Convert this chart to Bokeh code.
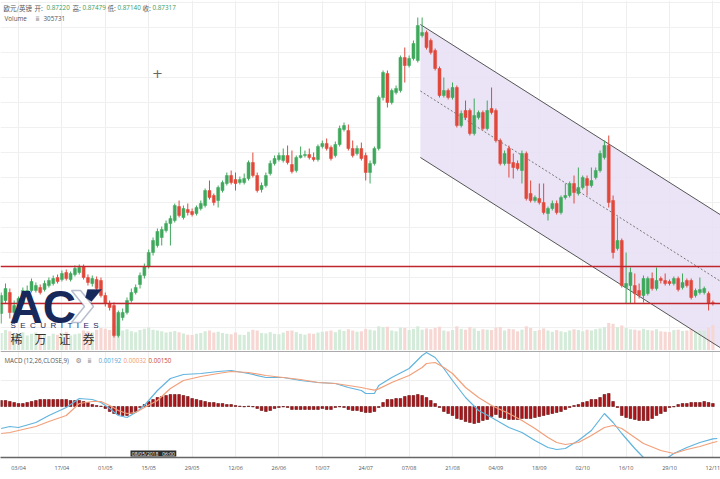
from bokeh.plotting import figure
from bokeh.layouts import column
from bokeh.models import (Range1d, FixedTicker, Span, Label, PolyAnnotation,
                          ColumnDataSource, GlobalInlineStyleSheet)
from bokeh.embed import file_html
from bokeh.resources import INLINE

# ---------------- data ----------------
tick_idx = [4, 14, 24, 34, 44, 54, 64, 74, 84, 94, 104, 114, 124, 134, 144, 154, 164]
tick_labels = ["03/04", "17/04", "01/05", "15/05", "29/05", "12/06", "26/06", "10/07", "24/07",
               "07/08", "21/08", "04/09", "18/09", "02/10", "16/10", "29/10", "12/11"]

opens = [
    .8714, .8727, .8735, .8715, .8717, .8724, .8732, .8737, .8737, .8740,
    .8738, .8742, .8744, .8750, .8748, .8755, .8748, .8753, .8755, .8761,
    .8750, .8744, .8748, .8747, .8732, .8724, .8722, .8692, .8710, .8715,
    .8727, .8735, .8743, .8752, .8761, .8775, .8782, .8790, .8797, .8804,
    .8807, .8821, .8810, .8818, .8816, .8814, .8819, .8822, .8837, .8832,
    .8827, .8837, .8844, .8852, .8848, .8845, .8845, .8849, .8865, .8852,
    .8838, .8842, .8854, .8864, .8868, .8867, .8872, .8863, .8857, .8870,
    .8872, .8873, .8870, .8868, .8881, .8884, .8880, .8872, .8883, .8898,
    .8897, .8879, .8874, .8879, .8872, .8855, .8864, .8879, .8930, .8954,
    .8925, .8935, .8937, .8970, .8962, .8969, .8967, .8992, .8995, .8987,
    .8977, .8959, .8932, .8937, .8930, .8940, .8902, .8917, .8917, .8894,
    .8910, .8915, .8899, .8919, .8917, .8887, .8864, .8879, .8865, .8864,
    .8857, .8874, .8834, .8827, .8829, .8825, .8814, .8819, .8824, .8815,
    .8830, .8832, .8844, .8834, .8840, .8849, .8842, .8850, .8857, .8870,
    .8882, .8827, .8779, .8787, .8740, .8742, .8742, .8737, .8732, .8734,
    .8749, .8739, .8749, .8747, .8746, .8744, .8749, .8740, .8747, .8747,
    .8732, .8735, .8735, .8734, .8725]
highs = [
    .8735, .8744, .8739, .8727, .8731, .8740, .8742, .8749, .8745, .8743,
    .8747, .8750, .8752, .8753, .8757, .8758, .8756, .8762, .8763, .8763,
    .8753, .8752, .8751, .8750, .8735, .8727, .8725, .8717, .8719, .8730,
    .8739, .8743, .8755, .8764, .8778, .8790, .8799, .8801, .8807, .8812,
    .8824, .8827, .8822, .8824, .8819, .8822, .8827, .8839, .8847, .8834,
    .8842, .8847, .8855, .8857, .8855, .8851, .8854, .8867, .8875, .8855,
    .8845, .8855, .8867, .8872, .8875, .8879, .8882, .8877, .8872, .8881,
    .8877, .8879, .8875, .8883, .8887, .8889, .8882, .8886, .8902, .8905,
    .8903, .8887, .8882, .8885, .8875, .8867, .8881, .8932, .8957, .8957,
    .8939, .8942, .8972, .8980, .8972, .8987, .9010, .9010, .8997, .8989,
    .8979, .8961, .8950, .8939, .8945, .8942, .8917, .8927, .8919, .8929,
    .8917, .8917, .8927, .8940, .8919, .8889, .8877, .8882, .8874, .8867,
    .8877, .8876, .8847, .8832, .8844, .8844, .8821, .8827, .8827, .8832,
    .8844, .8846, .8852, .8860, .8852, .8852, .8860, .8860, .8877, .8887,
    .8892, .8832, .8810, .8789, .8775, .8760, .8754, .8744, .8752, .8751,
    .8755, .8760, .8751, .8754, .8748, .8751, .8751, .8754, .8749, .8749,
    .8739, .8750, .8741, .8736, .8727]
lows = [
    .8704, .8724, .8709, .8711, .8715, .8722, .8730, .8735, .8735, .8733,
    .8736, .8740, .8742, .8744, .8746, .8747, .8746, .8751, .8753, .8748,
    .8742, .8741, .8736, .8730, .8721, .8717, .8690, .8690, .8707, .8713,
    .8725, .8733, .8739, .8749, .8759, .8772, .8780, .8782, .8795, .8782,
    .8805, .8810, .8808, .8812, .8811, .8812, .8817, .8820, .8828, .8822,
    .8820, .8835, .8842, .8843, .8837, .8843, .8843, .8847, .8850, .8835,
    .8835, .8840, .8852, .8862, .8866, .8865, .8863, .8854, .8855, .8869,
    .8870, .8868, .8866, .8866, .8879, .8877, .8867, .8870, .8881, .8896,
    .8877, .8870, .8872, .8867, .8847, .8844, .8862, .8877, .8927, .8920,
    .8923, .8933, .8935, .8945, .8960, .8967, .8965, .8990, .8978, .8973,
    .8957, .8930, .8930, .8928, .8928, .8900, .8900, .8908, .8892, .8892,
    .8908, .8897, .8897, .8913, .8885, .8862, .8862, .8850, .8849, .8857,
    .8844, .8827, .8825, .8825, .8823, .8813, .8807, .8817, .8813, .8813,
    .8828, .8830, .8824, .8832, .8838, .8832, .8840, .8848, .8855, .8868,
    .8820, .8769, .8777, .8740, .8724, .8724, .8724, .8729, .8725, .8732,
    .8737, .8737, .8744, .8742, .8742, .8742, .8736, .8738, .8740, .8728,
    .8730, .8733, .8733, .8717, .8722]
closes = [
    .8732, .8739, .8715, .8722, .8729, .8737, .8737, .8746, .8742, .8735,
    .8744, .8747, .8749, .8746, .8754, .8749, .8754, .8759, .8760, .8750,
    .8745, .8749, .8739, .8732, .8724, .8720, .8692, .8715, .8715, .8727,
    .8735, .8740, .8752, .8761, .8775, .8787, .8796, .8798, .8804, .8809,
    .8822, .8812, .8819, .8815, .8813, .8820, .8824, .8837, .8830, .8825,
    .8840, .8845, .8852, .8845, .8844, .8848, .8849, .8865, .8852, .8837,
    .8842, .8852, .8864, .8869, .8872, .8872, .8865, .8856, .8870, .8872,
    .8873, .8870, .8868, .8881, .8884, .8879, .8869, .8883, .8899, .8902,
    .8879, .8872, .8879, .8869, .8855, .8864, .8879, .8930, .8955, .8925,
    .8937, .8939, .8970, .8962, .8969, .8984, .9002, .8995, .8980, .8975,
    .8959, .8932, .8937, .8930, .8940, .8902, .8914, .8910, .8894, .8912,
    .8915, .8899, .8917, .8915, .8887, .8864, .8874, .8864, .8860, .8859,
    .8874, .8829, .8827, .8830, .8825, .8815, .8819, .8824, .8815, .8830,
    .8832, .8844, .8835, .8840, .8850, .8842, .8847, .8857, .8874, .8882,
    .8825, .8775, .8787, .8742, .8744, .8755, .8734, .8732, .8749, .8749,
    .8739, .8747, .8747, .8744, .8744, .8749, .8738, .8745, .8742, .8730,
    .8737, .8738, .8739, .8724, .8724]
# volume, thousands
volumes = [
    210, 245, 230, 190, 205, 220, 180, 200, 215, 195,
    185, 175, 200, 190, 210, 225, 180, 195, 205, 240,
    230, 215, 250, 270, 260, 245, 310, 290, 240, 255,
    230, 220, 245, 260, 275, 250, 240, 230, 215, 225,
    235, 220, 205, 190, 185, 200, 210, 230, 240, 215,
    225, 210, 200, 195, 215, 190, 185, 225, 250, 240,
    210, 205, 220, 200, 195, 215, 235, 240, 220, 200,
    190, 205, 200, 215, 225, 230, 240, 220, 250, 235,
    255, 240, 225, 230, 260, 250, 240, 290, 280, 285,
    240, 230, 275, 270, 245, 260, 290, 250, 265, 255,
    270, 285, 240, 230, 245, 290, 260, 250, 280, 265,
    235, 255, 250, 245, 275, 280, 240, 260, 255, 230,
    250, 290, 270, 235, 245, 265, 240, 225, 245, 230,
    220, 240, 255, 245, 230, 250, 240, 255, 265, 280,
    330, 320, 280, 300, 270, 255, 250, 240, 260, 245,
    240, 255, 230, 225, 220, 245, 250, 235, 240, 260,
    230, 240, 235, 275, 306]

macd_idx = [0, 2, 4, 8, 11, 15, 18, 21, 23, 25, 27, 29, 31, 33, 36, 39, 42, 46, 50, 53,
            57, 61, 65, 69, 73, 77, 80, 83, 84, 86, 87, 90, 94, 97, 98, 100, 102, 104, 107, 110,
            113, 117, 120, 123, 126, 128, 130, 133, 136, 139, 141, 143, 146, 148, 152, 155, 158, 161, 164, 165]
macd_line = [-0.00110, -0.00100, -0.00105, -0.00080, -0.00045, -0.00005, 0.00040, 0.00035, 0.00020, -0.00010,
             -0.00045, -0.00055, -0.00030, 0.00005, 0.00080, 0.00140, 0.00160, 0.00165, 0.00175, 0.00180,
             0.00165, 0.00145, 0.00145, 0.00130, 0.00120, 0.00115, 0.00095, 0.00080, 0.00065, 0.00065,
             0.00105, 0.00145, 0.00190, 0.00255, 0.00270, 0.00245, 0.00190, 0.00130, 0.00045, -0.00020,
             -0.00055, -0.00105, -0.00130, -0.00170, -0.00205, -0.00215, -0.00210, -0.00170, -0.00120, -0.00035,
             -0.00080, -0.00135, -0.00210, -0.00255, -0.00280, -0.00235, -0.00205, -0.00180, -0.00162, -0.00160]
signal_line = [-0.00135, -0.00130, -0.00120, -0.00100, -0.00075, -0.00045, 0.00015, 0.00025, 0.00025, 0.00005,
               -0.00020, -0.00035, -0.00030, -0.00005, 0.00030, 0.00090, 0.00130, 0.00150, 0.00165, 0.00175,
               0.00170, 0.00155, 0.00145, 0.00135, 0.00120, 0.00115, 0.00105, 0.00095, 0.00090, 0.00082,
               0.00088, 0.00120, 0.00155, 0.00195, 0.00215, 0.00220, 0.00195, 0.00165, 0.00095, 0.00045,
               0.00005, -0.00035, -0.00070, -0.00110, -0.00155, -0.00180, -0.00190, -0.00180, -0.00145, -0.00105,
               -0.00095, -0.00110, -0.00155, -0.00185, -0.00220, -0.00235, -0.00215, -0.00200, -0.00180, -0.00175]
hist = [
    0.00030, 0.00030, 0.00025, 0.00020, 0.00015, 0.00015, 0.00020, 0.00025, 0.00030, 0.00035,
    0.00035, 0.00035, 0.00035, 0.00035, 0.00035, 0.00035, 0.00030, 0.00030, 0.00030, 0.00025,
    0.00020, 0.00010, 0.00005, 0.00002, -0.00010, -0.00025, -0.00035, -0.00040, -0.00045, -0.00045,
    -0.00035, -0.00025, -0.00005, 0.00010, 0.00025, 0.00035, 0.00045, 0.00050, 0.00055, 0.00060,
    0.00060, 0.00060, 0.00055, 0.00050, 0.00040, 0.00035, 0.00030, 0.00025, 0.00020, 0.00020,
    0.00015, 0.00015, 0.00010, 0.00010, 0.00005, 0.00002, -0.00002, 0.00002, -0.00002, -0.00010,
    -0.00020, -0.00025, -0.00020, -0.00010, -0.00005, -0.00002, -0.00005, -0.00015, -0.00015, -0.00015,
    -0.00015, -0.00015, -0.00015, -0.00015, -0.00010, -0.00015, -0.00015, -0.00005, -0.00002, -0.00005,
    -0.00015, -0.00020, -0.00020, -0.00025, -0.00030, -0.00030, -0.00025, -0.00005, 0.00020, 0.00035,
    0.00035, 0.00040, 0.00040, 0.00050, 0.00055, 0.00055, 0.00060, 0.00055, 0.00045, 0.00030,
    0.00015, -0.00005, -0.00025, -0.00035, -0.00045, -0.00060, -0.00065, -0.00075, -0.00080, -0.00085,
    -0.00080, -0.00070, -0.00065, -0.00050, -0.00040, -0.00055, -0.00060, -0.00065, -0.00065, -0.00065,
    -0.00060, -0.00060, -0.00060, -0.00055, -0.00050, -0.00045, -0.00040, -0.00035, -0.00030, -0.00025,
    -0.00015, -0.00005, 0.00005, 0.00010, 0.00020, 0.00025, 0.00035, 0.00035, 0.00045, 0.00060,
    0.00065, 0.00025, -0.00005, -0.00045, -0.00055, -0.00060, -0.00065, -0.00070, -0.00070, -0.00070,
    -0.00060, -0.00045, -0.00035, -0.00025, -0.00005, -0.00002, 0.00010, 0.00015, 0.00015, 0.00020,
    0.00020, 0.00020, 0.00025, 0.00020, 0.00015]

support_levels = [0.8761, 0.8724]
chan_x = [96.6, 166.0]
chan_upper = [0.9003, 0.8812]
chan_mid = [0.89365, 0.87455]
chan_lower = [0.8870, 0.8679]

# ---------------- styling ----------------
GREEN = "#3fa85c"
RED = "#e0483b"
VGREEN = "#d3ebd8"
VRED = "#f6d7d3"
NAVY = "#17285b"
W = 720
H1 = 350
H2 = 107
XR = Range1d(-0.15, 165.75)

idx = list(range(len(opens)))
up = [c >= o for o, c in zip(opens, closes)]
src = ColumnDataSource(dict(
    x=idx, o=opens, h=highs, l=lows, c=closes,
    top=[max(o, c) for o, c in zip(opens, closes)],
    bot=[min(o, c) for o, c in zip(opens, closes)],
    col=[GREEN if u else RED for u in up],
    vcol=[VGREEN if u else VRED for u in up],
    vol=volumes,
))

p1 = figure(frame_width=W, frame_height=H1, x_range=XR, y_range=Range1d(0.8677, 0.9027),
            output_backend="svg", toolbar_location=None, min_border=0,
            x_axis_location=None, y_axis_location=None)
p1.outline_line_color = None
p1.xgrid.ticker = FixedTicker(ticks=tick_idx)
p1.ygrid.ticker = FixedTicker(ticks=[round(0.87 + 0.0025 * k, 4) for k in range(14)])
p1.xgrid.grid_line_color = "#eeeeee"
p1.ygrid.grid_line_color = "#f0f0f0"

# channel fill
p1.patch(x=[chan_x[0], chan_x[1], chan_x[1], chan_x[0]],
         y=[chan_upper[0], chan_upper[1], chan_lower[1], chan_lower[0]],
         fill_color="#e8dff6", fill_alpha=0.85, line_color=None)

# volume
p1.extra_y_ranges = {"vol": Range1d(0, 4200)}
p1.vbar(x="x", top="vol", bottom=0, width=0.72, fill_color="vcol", line_color=None,
        source=src, y_range_name="vol")

# channel lines
p1.line(chan_x, chan_upper, line_color="#555555", line_width=1)
p1.line(chan_x, chan_lower, line_color="#555555", line_width=1)
p1.line(chan_x, chan_mid, line_color="#777777", line_width=1, line_dash="2 2")

# candles
p1.segment(x0="x", y0="h", x1="x", y1="l", line_color="col", line_width=1, source=src)
p1.vbar(x="x", top="top", bottom="bot", width=0.68, fill_color="col", line_color="col",
        line_width=0.5, source=src)

for lv in support_levels:
    p1.add_layout(Span(location=lv, dimension="width", line_color="#c0272d", line_width=1.5))


def txt(fig, fh, x, ytop, text, color, size, font="Open Sans", style="normal",
        align="left", baseline="middle", **kw):
    fig.add_layout(Label(x=x, y=fh - ytop, x_units="screen", y_units="screen", text=text,
                         text_color=color, text_font_size=size, text_font=font,
                         text_font_style=style, text_align=align, text_baseline=baseline, **kw))


CJK = "Noto Sans CJK SC"
LG = "#555555"
VG = "#3d9a5c"
txt(p1, H1, 3, 7, "欧元/英镑", LG, "6.5px", CJK)
txt(p1, H1, 34, 7, "开:", LG, "6.5px", CJK)
txt(p1, H1, 46, 7, "0.87220", VG, "6.3px")
txt(p1, H1, 72, 7, "高:", LG, "6.5px", CJK)
txt(p1, H1, 82, 7, "0.87479", VG, "6.3px")
txt(p1, H1, 107, 7, "低:", LG, "6.5px", CJK)
txt(p1, H1, 117, 7, "0.87140", VG, "6.3px")
txt(p1, H1, 142, 7, "收:", LG, "6.5px", CJK)
txt(p1, H1, 152, 7, "0.87317", VG, "6.3px")
txt(p1, H1, 4, 18, "Volume", LG, "6.3px")
txt(p1, H1, 35, 18, "ⅲ", "#888888", "6.3px", "DejaVu Sans")
txt(p1, H1, 43, 18, "305731", LG, "6.3px")
txt(p1, H1, 157, 73, "+", "#666666", "13px", "DejaVu Sans", align="center")

# logo
p1.add_layout(PolyAnnotation(xs=[71, 80, 93, 80, 71, 84],
                             ys=[H1 - 290, H1 - 290, H1 - 306, H1 - 322, H1 - 322, H1 - 306],
                             xs_units="screen", ys_units="screen",
                             fill_color="white", fill_alpha=0.95, line_color=NAVY, line_width=1.5))
p1.add_layout(PolyAnnotation(xs=[87, 101, 91, 85], ys=[H1 - 289, H1 - 289, H1 - 301, H1 - 297],
                             xs_units="screen", ys_units="screen",
                             fill_color=NAVY, fill_alpha=1, line_color=NAVY, line_width=1))
txt(p1, H1, 9, 306, "AC", NAVY, "46px", "Liberation Sans", "bold")
nb = "\u00a0\u00a0"
txt(p1, H1, 10, 325, nb.join("SECURITIES"), NAVY, "8px", "Liberation Sans")
txt(p1, H1, 10, 338, "稀\u3000万\u3000证\u3000券", "#333333", "12px", CJK)

# ---------------- MACD panel ----------------
p2 = figure(frame_width=W, frame_height=H2, x_range=XR, y_range=Range1d(-0.00255, 0.0028),
            output_backend="svg", toolbar_location=None, min_border=0, y_axis_location=None)
p2.outline_line_color = None
p2.xgrid.ticker = FixedTicker(ticks=tick_idx)
p2.ygrid.ticker = FixedTicker(ticks=[-0.00135, 0.0013])
p2.xgrid.grid_line_color = "#eeeeee"
p2.ygrid.grid_line_color = "#eeeeee"
ax = p2.xaxis[0]
ax.ticker = FixedTicker(ticks=tick_idx)
ax.major_label_overrides = {t: l for t, l in zip(tick_idx, tick_labels)}
ax.major_tick_out = 0
ax.major_tick_in = 0
ax.minor_tick_out = 0
ax.minor_tick_in = 0
ax.axis_line_color = "#666666"
ax.axis_line_width = 1.3
ax.major_label_text_font_size = "5.5px"
ax.major_label_text_color = "#555555"
ax.major_label_text_font = "Open Sans"
ax.major_label_standoff = 6

p2.add_layout(Span(location=0.00275, dimension="width", line_color="#aaaaaa", line_width=1))
p2.vbar(x=idx, top=hist, bottom=0, width=0.62, fill_color="#b3141a", line_color="#4d0000",
        line_width=0.5)
p2.line(macd_idx, macd_line, line_color="#62b4de", line_width=1.2)
p2.line(macd_idx, signal_line, line_color="#f2a07a", line_width=1.2)

txt(p2, H2, 4, 10, "MACD (12,26,CLOSE,9)", LG, "6.2px")
txt(p2, H2, 75, 10, "⚙", "#888888", "7px", "DejaVu Sans")
txt(p2, H2, 87, 10, "ⅲ", "#888888", "6.3px", "DejaVu Sans")
txt(p2, H2, 98, 10, "0.00192", "#4aa8d8", "6.2px")
txt(p2, H2, 123, 10, "0.00032", "#f39a6b", "6.2px")
txt(p2, H2, 148, 10, "0.00150", "#c9453a", "6.2px")
txt(p2, H2, 130, 103, "\u00a008/05/2018\u00a0\u00a0\u00a006:00\u00a0", "#ffffff", "5px",
    background_fill_color="#2b2b2b", background_fill_alpha=1)

layout = column(p1, p2, spacing=0,
                stylesheets=[GlobalInlineStyleSheet(css="html,body{margin:0;padding:0;overflow:hidden;}")])

open("out.html", "w").write(file_html(layout, INLINE))
